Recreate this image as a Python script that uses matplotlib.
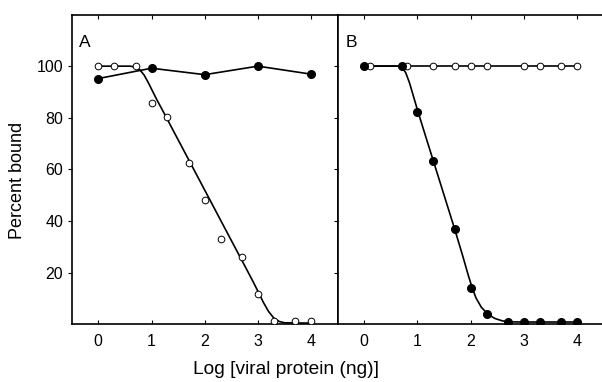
import matplotlib
matplotlib.use("Agg")
import matplotlib.pyplot as plt

plt.rcParams['font.family'] = ['Liberation Sans', 'DejaVu Sans']

# ---- Panel A data ----
a_open_x = [0, 0.3, 0.7, 1.0, 1.3, 1.7, 2.0, 2.3, 2.7, 3.0, 3.3, 3.7, 4.0]
a_open_y = [100, 100, 100, 85.8, 80.2, 62.3, 48.1, 32.9, 26.1, 11.8, 1.4, 1.4, 1.4]
a_fill_x = [0, 1, 2, 3, 4]
a_fill_y = [95.2, 99.2, 96.7, 100, 96.9]
# fitted curve through open circles
a_curve_x = [0, 0.3, 0.6, 0.7, 0.78, 0.86, 0.94, 1.02, 1.1, 1.2, 1.3, 1.5,
             2.0, 2.5, 2.77, 2.9, 3.02, 3.1, 3.2, 3.3, 3.4, 3.5, 3.7, 4.0]
a_curve_y = [100, 100, 100, 99.6, 98.6, 96.6, 93.6, 90.3, 87.0, 83.2, 79.3, 71.5,
             52.0, 32.5, 22.0, 16.9, 12.0, 8.6, 5.0, 2.4, 1.1, 0.6, 0.5, 0.5]

# ---- Panel B data ----
b_open_x = [0.1, 0.8, 1.3, 1.7, 2.0, 2.3, 3.0, 3.3, 3.7, 4.0]
b_open_y = [100, 100, 100, 100, 100, 100, 100, 100, 100, 100]
b_fill_x = [0, 0.7, 1.0, 1.3, 1.7, 2.0, 2.3, 2.7, 3.0, 3.3, 3.7, 4.0]
b_fill_y = [100, 100, 82.2, 63.1, 36.8, 14.0, 4.0, 0.9, 0.9, 0.9, 0.9, 0.9]
b_curve_x = [0, 0.66, 0.72, 0.78, 0.85, 0.92, 1.0, 1.15, 1.31, 1.5, 1.7, 1.85, 1.95,
             2.03, 2.1, 2.2, 2.32, 2.45, 2.6, 2.75, 3.0, 4.0]
b_curve_y = [100, 100, 99.3, 97.4, 93.5, 88.6, 83.0, 73.0, 62.5, 50.0, 36.8, 26.5, 19.3,
             14.0, 10.2, 6.6, 4.0, 2.3, 1.3, 0.95, 0.9, 0.9]

xticks = [0, 1, 2, 3, 4]
yticks = [20, 40, 60, 80, 100]

fig = plt.figure(figsize=(6.02, 3.82), dpi=100)
W = 266 / 602
axA = fig.add_axes([71.7 / 602, 0.151, W, 0.811])
axB = fig.add_axes([337.7 / 602, 0.151, W, 0.811])

lw = 1.2
for ax in (axA, axB):
    ax.set_xlim(-0.5, 4.5)
    ax.set_ylim(0, 120)
    ax.set_xticks(xticks)
    ax.set_yticks(yticks)
    for s in ax.spines.values():
        s.set_linewidth(1.2)
    ax.tick_params(axis='x', direction='in', top=True, bottom=True, length=3,
                   width=0.8, labelsize=11.5, pad=7)
    ax.tick_params(axis='y', direction='out', left=True, right=True, length=3,
                   width=0.8, labelsize=11.5, pad=3)

axB.tick_params(axis='y', labelleft=False)

# Panel A
axA.plot(a_curve_x, a_curve_y, color='black', lw=lw, zorder=2)
axA.plot(a_fill_x, a_fill_y, color='black', lw=lw, marker='o', ms=5.5,
         mfc='black', mec='black', zorder=3)
axA.plot(a_open_x, a_open_y, ls='none', marker='o', ms=4.8, mfc='white',
         mec='black', mew=0.7, zorder=4)
axA.text(-0.36, 109, 'A', fontsize=12.5, va='center', ha='left')

# Panel B
axB.plot(b_open_x, b_open_y, color='black', lw=lw, marker='o', ms=4.8,
         mfc='white', mec='black', mew=0.7, zorder=3)
axB.plot(b_curve_x, b_curve_y, color='black', lw=lw, zorder=2)
axB.plot(b_fill_x, b_fill_y, ls='none', marker='o', ms=5.5, mfc='black',
         mec='black', zorder=4)
axB.text(-0.36, 109, 'B', fontsize=12.5, va='center', ha='left')

fig.text(18 / 602, 1 - 180 / 382, 'Percent bound', rotation=90, fontsize=13,
         ha='center', va='center')
fig.text(286 / 602, 1 - 369 / 382, 'Log [viral protein (ng)]', fontsize=13.8,
         ha='center', va='center')

fig.savefig('out.png', dpi=100)
